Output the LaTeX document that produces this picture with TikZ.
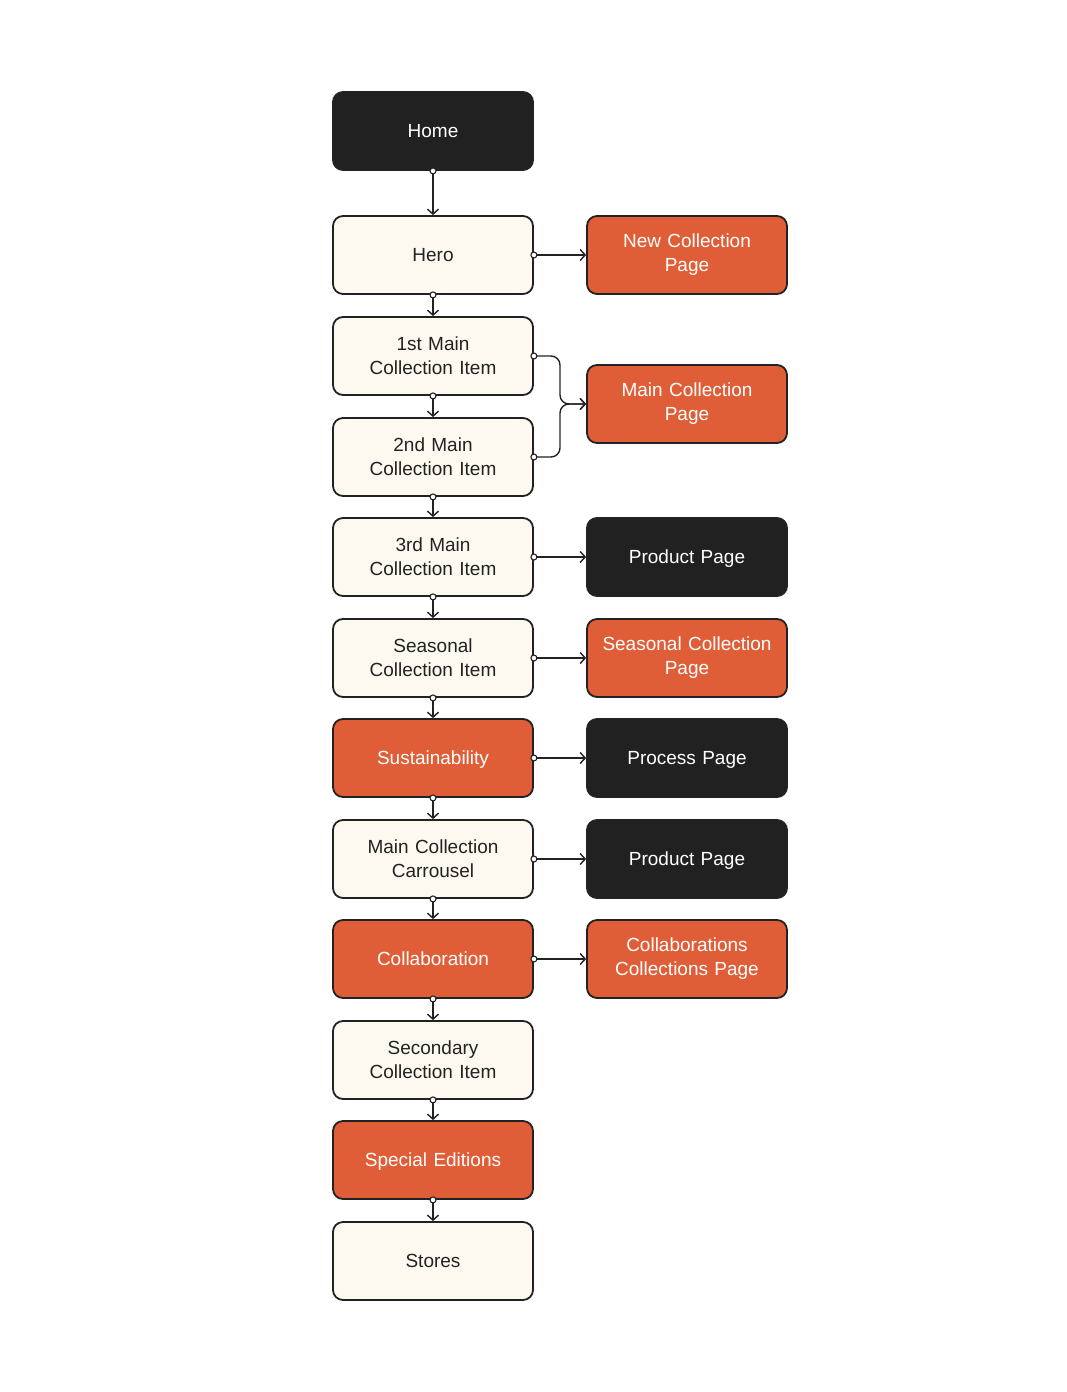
\documentclass[tikz,border=0pt]{standalone}
\usepackage{fontspec}
\setmainfont{Liberation Sans}
\usetikzlibrary{arrows.meta}
\definecolor{edge}{HTML}{222222}
\definecolor{darkbox}{HTML}{212121}
\definecolor{orangebox}{HTML}{E05E37}
\definecolor{creambox}{HTML}{FDF9F1}
\definecolor{textdark}{HTML}{222222}
\begin{document}
\begin{tikzpicture}[x=1pt,y=-1pt,
  box/.style={draw=edge, line width=1.8pt, rounded corners=10pt, minimum width=200pt, minimum height=78pt, inner sep=0pt, align=center, text width=190pt, font=\fontsize{19}{24}\selectfont},
  oneline/.style={text depth=0pt},
  darkb/.style={box, fill=darkbox, text=white},
  orangeb/.style={box, fill=orangebox, text=white},
  creamb/.style={box, fill=creambox, text=textdark},
  conn/.style={line width=1.4pt, draw=edge, -{Straight Barb[length=5pt,width=11pt,line width=1.4pt]}},
  dotc/.style={fill=white, draw=edge, line width=1.1pt}]
\useasboundingbox[fill=white] (0,0) rectangle (1066,1392);
% left column
\node[darkb,oneline]   (home) at (433,131)  {Home};
\node[creamb,oneline]  (hero) at (433,255)  {Hero};
\node[creamb]  (m1)   at (433,356)  {1st Main\\Collection Item};
\node[creamb]  (m2)   at (433,457)  {2nd Main\\Collection Item};
\node[creamb]  (m3)   at (433,557)  {3rd Main\\Collection Item};
\node[creamb]  (sea)  at (433,658)  {Seasonal\\Collection Item};
\node[orangeb,oneline] (sus)  at (433,758)  {Sustainability};
\node[creamb]  (car)  at (433,859)  {Main Collection\\Carrousel};
\node[orangeb,oneline] (col)  at (433,959)  {Collaboration};
\node[creamb]  (sec)  at (433,1060) {Secondary\\Collection Item};
\node[orangeb,oneline] (spe)  at (433,1160) {Special Editions};
\node[creamb,oneline]  (sto)  at (433,1261) {Stores};
% right column
\node[orangeb] (ncp)  at (687,255)  {New Collection\\Page};
\node[orangeb] (mcp)  at (687,404)  {Main Collection\\Page};
\node[darkb,oneline]   (pp1)  at (687,557)  {Product Page};
\node[orangeb] (scp)  at (687,658)  {Seasonal Collection\\Page};
\node[darkb,oneline]   (prp)  at (687,758)  {Process Page};
\node[darkb,oneline]   (pp2)  at (687,859)  {Product Page};
\node[orangeb] (ccp)  at (687,959)  {Collaborations\\Collections Page};
% vertical connectors
\foreach \a/\b in {home/hero, hero/m1, m1/m2, m2/m3, m3/sea, sea/sus, sus/car, car/col, col/sec, sec/spe, spe/sto}{
  \draw[conn] (\a.south) -- (\b.north);
  \filldraw[dotc] (\a.south) circle (3pt);
}
% horizontal connectors
\foreach \a/\b in {hero/ncp, m3/pp1, sea/scp, sus/prp, car/pp2, col/ccp}{
  \draw[conn] (\a.east) -- (\b.west);
  \filldraw[dotc] (\a.east) circle (3pt);
}
% bracket into Main Collection Page
\coordinate (j) at (560,404);
\draw[conn, rounded corners=9pt] (m1.east) -| (j) -- (mcp.west);
\draw[conn, rounded corners=9pt] (m2.east) -| (j) -- (mcp.west);
\filldraw[dotc] (m1.east) circle (3pt);
\filldraw[dotc] (m2.east) circle (3pt);
\end{tikzpicture}
\end{document}
